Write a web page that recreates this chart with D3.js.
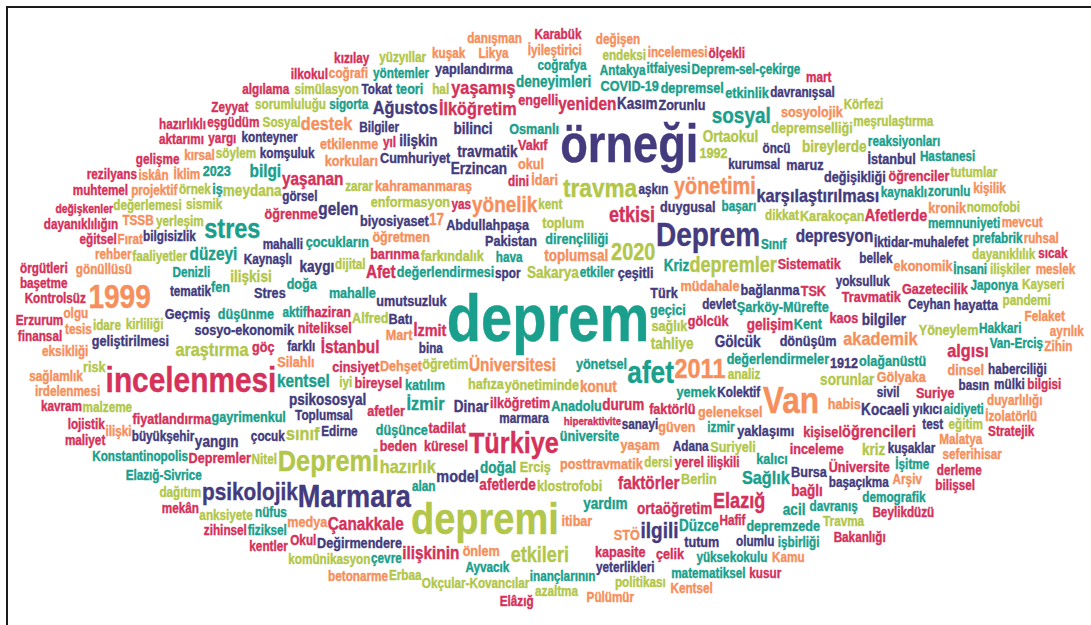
<!DOCTYPE html>
<html>
<head>
<meta charset="utf-8">
<script src="https://cdn.jsdelivr.net/npm/d3@7"></script>
<style>
  html, body { margin: 0; padding: 0; background: #fff; overflow: hidden; }
</style>
</head>
<body>
<div id="chart"></div>
<script>
//! CONSTS
const WIDTH = 1091;
const HEIGHT = 625;
const FONT = '"Liberation Sans", Arial, sans-serif';
const SQUEEZE = 0.85; // horizontal squeeze to get a condensed face
const SEED = 0.9201;

//! DATA  (word, weight) per colour group
const PURPLE = [
  ["örneği", 38], ["Deprem", 19], ["Marmara", 18], ["psikolojik", 11], ["ilgili", 9],
  ["Ağustos", 6], ["karşılaştırılması", 6], ["gelen", 5], ["depresyon", 5], ["model", 4],
  ["yangın", 3], ["kaygı", 3], ["bilinci", 3], ["Dinar", 3], ["Erzincan", 3], ["bilgiler", 3],
  ["Kocaeli", 3], ["ilişkin", 3], ["Gölcük", 3], ["Kasım", 3], ["psikososyal", 3], ["travmatik", 3],
  ["umutsuzluk", 2], ["duygusal", 2], ["yapılandırma", 2], ["hayatta", 2], ["geliştirilmesi", 2],
  ["Batı", 2], ["değişikliği", 2], ["biyosiyaset", 2], ["1912", 2], ["tutum", 2], ["Değirmendere", 2],
  ["Türk", 2], ["maruz", 2], ["Stres", 2], ["sosyo-ekonomik", 2], ["Zorunlu", 2], ["İstanbul", 2],
  ["Abdullahpaşa", 2], ["yaklaşımı", 2], ["çeşitli", 2], ["bağlanma", 2], ["Cumhuriyet", 2],
  ["Pakistan", 2], ["dönüşüm", 2], ["Bursa", 2], ["Geçmiş", 2],
  ["Tokat", 1], ["marmara", 1], ["yeterlikleri", 1], ["Toplumsal", 1], ["İktidar-muhalefet", 1],
  ["kurumsal", 1], ["büyükşehir", 1], ["sanayi", 1], ["Kaynaşlı", 1], ["bilgisizlik", 1], ["Adana", 1],
  ["farklı", 1], ["sivil", 1], ["devlet", 1], ["basın", 1], ["kuşaklar", 1], ["aşkın", 1], ["yıkıcı", 1],
  ["Edirne", 1], ["mahalli", 1], ["olumlu", 1], ["spor", 1], ["bellek", 1], ["haberciliği", 1],
  ["Kolektif", 1], ["komşuluk", 1], ["davranışsal", 1], ["öncü", 1], ["bina", 1], ["tematik", 1],
  ["mülki", 1], ["görsel", 1], ["yoksulluk", 1], ["Bilgiler", 1], ["Ceyhan", 1], ["konteyner", 1],
  ["çocuk", 1], ["başaçıkma", 1], ["test", 1]
];

const TEAL = [
  ["deprem", 50], ["afet", 17], ["stres", 14], ["sosyal", 9], ["İzmir", 6], ["Sağlık", 6],
  ["bilgi", 5], ["kentsel", 5], ["düzeyi", 5], ["deneyimleri", 3], ["acil", 3], ["doğal", 3],
  ["Düzce", 3], ["yardım", 3], ["Kriz", 3], ["iş", 2], ["Osmanlı", 2],
  ["Şarköy-Mürefte", 2], ["değerlendirmeler", 2], ["olağanüstü", 2], ["yönetsel", 2], ["katılım", 2],
  ["kalıcı", 2], ["mahalle", 2], ["gayrimenkul", 2], ["fen", 2], ["teori", 2], ["2023", 2],
  ["Anadolu", 2], ["düşünce", 2], ["COVID-19", 2], ["dirençliliği", 2], ["düşünme", 2], ["Kent", 2],
  ["geçici", 2], ["yemek", 2], ["doğa", 2], ["depremsel", 2], ["etkinlik", 2], ["değerlendirmesi", 2],
  ["üniversite", 2], ["depremzede", 2], ["çocukların", 2],
  ["başarı", 1], ["Ayvacık", 1], ["memnuniyeti", 1], ["İnsani", 1], ["Konstantinopolis", 1],
  ["kaynaklı", 1], ["reaksiyonları", 1], ["izmir", 1], ["etkiler", 1], ["Hakkari", 1], ["nüfus", 1],
  ["yöntemler", 1], ["inançlarının", 1], ["fiziksel", 1], ["Hastanesi", 1], ["Sınıf", 1], ["hava", 1],
  ["Antakya", 1], ["alan", 1], ["coğrafya", 1], ["davranış", 1], ["sigorta", 1], ["Elazığ-Sivrice", 1],
  ["Van-Erciş", 1], ["aidiyeti", 1], ["zorunlu", 1], ["işbirliği", 1], ["itfaiyesi", 1], ["İşitme", 1],
  ["aktif", 1], ["Japonya", 1], ["Denizli", 1], ["yüksekokulu", 1], ["çevre", 1], ["prefabrik", 1],
  ["Deprem-sel-çekirge", 1], ["matematiksel", 1], ["demografik", 1]
];

const GREEN = [
  ["depremi", 30], ["Depremi", 16], ["travma", 13], ["2020", 10], ["etkileri", 8], ["depremler", 8],
  ["araştırma", 6], ["hazırlık", 6], ["sınıf", 6], ["Sakarya", 3], ["meydana", 3], ["kriz", 3],
  ["bireylerde", 3], ["ilişkisi", 3], ["sorunlar", 3], ["Ortaokul", 3], ["tahliye", 3], ["risk", 2],
  ["enformasyon", 2], ["depremselliği", 2], ["öğretim", 2], ["Suriyeli", 2], ["toplum", 2], ["1992", 2],
  ["yönetiminde", 2], ["Alfred", 2], ["sağlık", 2], ["klostrofobi", 2], ["Karakoçan", 2], ["Erciş", 2],
  ["farkındalık", 2], ["Berlin", 2], ["hafıza", 2], ["Yöneylem", 2],
  ["meşrulaştırma", 1], ["politikası", 1], ["kirliliği", 1], ["Okçular-Kovancılar", 1], ["dayanıklılık", 1],
  ["simülasyon", 1], ["dijital", 1], ["azaltma", 1], ["endeksi", 1], ["söylem", 1], ["Nitel", 1],
  ["analiz", 1], ["kent", 1], ["sismik", 1], ["Körfezi", 1], ["iyi", 1], ["yüzyıllar", 1], ["eğitim", 1],
  ["dersi", 1], ["idare", 1], ["zarar", 1], ["faaliyetler", 1], ["Sosyal", 1], ["örnek", 1],
  ["yerleşim", 1], ["ilişkiler", 1], ["dağıtım", 1], ["malzeme", 1], ["anksiyete", 1], ["dikkat", 1],
  ["nomofobi", 1], ["Kayseri", 1], ["Erbaa", 1], ["değerlemesi", 1], ["komünikasyon", 1],
  ["tutumlar", 1], ["sorumluluğu", 1], ["Travma", 1], ["pandemi", 1], ["hal", 1]
];

const ORANGE = [
  ["Van", 23], ["1999", 19], ["2011", 14], ["yönetimi", 10], ["yönelik", 9], ["destek", 6],
  ["akademik", 6], ["Üniversitesi", 5], ["17", 3], ["konut", 3], ["toplumsal", 3], ["müdahale", 2],
  ["öğretmen", 2], ["kronik", 2], ["kahramanmaraş", 2], ["posttravmatik", 2], ["Silahlı", 2],
  ["Dehşet", 2], ["STÖ", 2], ["Gölyaka", 2], ["dinsel", 2], ["korkuları", 2], ["ekonomik", 2],
  ["etkilenme", 2], ["itibar", 2], ["yaşam", 2], ["medya", 2], ["sosyolojik", 2], ["güven", 2],
  ["geleneksel", 2], ["habis", 2], ["Mart", 2], ["önlem", 2], ["okul", 2], ["İdari", 2],
  ["gönüllüsü", 1], ["rehber", 1], ["Felaket", 1], ["Arşiv", 1], ["Fırat", 1], ["ilişki", 1],
  ["kişilik", 1], ["duyarlılığı", 1], ["İyileştirici", 1], ["irdelenmesi", 1], ["Kentsel", 1],
  ["eksikliği", 1], ["betonarme", 1], ["İklim", 1], ["mevcut", 1], ["kırsal", 1], ["coğrafi", 1],
  ["Pülümür", 1], ["Malatya", 1], ["Likya", 1], ["Kamu", 1], ["ruhsal", 1], ["meslek", 1],
  ["sağlamlık", 1], ["kuşak", 1], ["incelemesi", 1], ["İzolatörlü", 1], ["tesis", 1],
  ["seferihisar", 1], ["ayrılık", 1], ["olgu", 1], ["Zihin", 1], ["projektif", 1], ["TSSB", 1],
  ["değişen", 1], ["iskân", 1], ["danışman", 1]
];

const RED = [
  ["incelenmesi", 21], ["Türkiye", 16], ["Elazığ", 8], ["etkisi", 8], ["İlköğretim", 6],
  ["yaşamış", 6], ["algısı", 6], ["faktörler", 5], ["Afet", 5], ["İstanbul", 5], ["yeniden", 5],
  ["Çanakkale", 5], ["yaşanan", 5], ["ilişkinin", 5], ["Afetlerde", 4], ["İzmit", 4], ["öğrencileri", 4],
  ["durum", 3], ["afetlerde", 3], ["bağlı", 3], ["ortaöğretim", 3], ["gelişim", 3],
  ["yerel", 2], ["göç", 2], ["bireysel", 2], ["Depremler", 2], ["cinsiyet", 2],
  ["ilköğretim", 2], ["öğrenciler", 2], ["faktörlü", 2], ["küresel", 2], ["barınma", 2], ["kapasite", 2],
  ["fiyatlandırma", 2], ["haziran", 2], ["kaos", 2], ["çelik", 2], ["niteliksel", 2], ["Suriye", 2],
  ["gölcük", 2], ["öğrenme", 2], ["beden", 2], ["inceleme", 2], ["tadilat", 2], ["Sistematik", 2],
  ["Vakıf", 2], ["engelli", 2], ["Travmatik", 2], ["kişisel", 2], ["TSK", 2], ["Gazetecilik", 2],
  ["afetler", 2], ["Üniversite", 2],
  ["derleme", 1], ["Kontrolsüz", 1], ["eğitsel", 1], ["sıcak", 1], ["Erzurum", 1], ["finansal", 1],
  ["Elâzığ", 1], ["kızılay", 1], ["Stratejik", 1], ["Karabük", 1], ["Beylikdüzü", 1], ["kavram", 1],
  ["Hafif", 1], ["eşgüdüm", 1], ["dini", 1], ["ölçekli", 1], ["kentler", 1], ["yas", 1], ["yargı", 1],
  ["algılama", 1], ["mart", 1], ["Zeyyat", 1], ["bilgisi", 1], ["zihinsel", 1], ["Bakanlığı", 1],
  ["lojistik", 1], ["ilkokul", 1], ["aktarımı", 1], ["gelişme", 1], ["başetme", 1], ["örgütleri", 1],
  ["bilişsel", 1], ["ilişkili", 1], ["muhtemel", 1], ["maliyet", 1], ["Okul", 1], ["dayanıklılığın", 1],
  ["yıl", 1], ["mekân", 1], ["hiperaktivite", 1], ["değişkenler", 1], ["kusur", 1], ["rezilyans", 1],
  ["hazırlıklı", 1]
];

const GROUPS = ["purple", "teal", "green", "orange", "red"];

//! SCALES
const color = d3.scaleOrdinal()
  .domain(GROUPS)
  .range(["#433b7d", "#1a9f8c", "#b2c74a", "#f68f5b", "#d5315a"]);

const fontSize = d3.scaleLinear()
  .domain([1, 50])
  .range([13.8, 66]);

// heaviest words first (stable sort keeps list order for ties)
const words = [PURPLE, TEAL, GREEN, ORANGE, RED]
  .flatMap((list, g) => list.map(([text, weight]) => ({ text, weight, group: GROUPS[g] })))
  .sort((a, b) => d3.descending(a.weight, b.weight));

//! MEASURE  (full em box, so no two text boxes overlap)
const ctx = document.createElement('canvas').getContext('2d');
function measure(d) {
  ctx.font = `bold ${d.size}px ${FONT}`;
  const m = ctx.measureText(d.text);
  d.w = m.width * SQUEEZE;
  d.asc = m.fontBoundingBoxAscent;
  d.h = m.fontBoundingBoxAscent + m.fontBoundingBoxDescent;
}

//! LAYOUT  (d3-cloud style: random start, elliptical spiral, box collision, elliptic mask)
const CX = 548, CY = 318, A = 540, B = 292, ELL = A / B;
const CELL = 24;
const cols = Math.ceil(WIDTH / CELL), rows = Math.ceil(HEIGHT / CELL);
const grid = Array.from({ length: cols * rows }, () => []);
const rand = d3.randomLcg(SEED);

const inside = (x, y) => ((x - CX) / A) ** 2 + ((y - CY) / B) ** 2 <= 1;

function hits(x0, y0, x1, y1) {
  const c0 = Math.max(0, Math.floor(x0 / CELL)), c1 = Math.min(cols - 1, Math.floor(x1 / CELL));
  const r0 = Math.max(0, Math.floor(y0 / CELL)), r1 = Math.min(rows - 1, Math.floor(y1 / CELL));
  for (let r = r0; r <= r1; r++) {
    for (let c = c0; c <= c1; c++) {
      const cell = grid[r * cols + c];
      for (let k = 0; k < cell.length; k++) {
        const b = cell[k];
        if (x0 < b[2] && x1 > b[0] && y0 < b[3] && y1 > b[1]) return true;
      }
    }
  }
  return false;
}

function add(box) {
  const c0 = Math.floor(box[0] / CELL), c1 = Math.floor(box[2] / CELL);
  const r0 = Math.floor(box[1] / CELL), r1 = Math.floor(box[3] / CELL);
  for (let r = Math.max(0, r0); r <= Math.min(rows - 1, r1); r++)
    for (let c = Math.max(0, c0); c <= Math.min(cols - 1, c1); c++) grid[r * cols + c].push(box);
}

function place(d, sx, sy, phase) {
  const w = d.w, h = d.h;
  for (let t = 0; ; t += Math.min(0.3, 1.4 / Math.max(1, 0.45 * t * ELL))) {
    const r = 0.45 * t;
    if (r > 2 * B) return false;
    const x = sx + ELL * r * Math.cos(t + phase) - w / 2;
    const y = sy + r * Math.sin(t + phase) - h / 2;
    if (inside(x, y) && inside(x + w, y) && inside(x, y + h) && inside(x + w, y + h)
        && !hits(x, y, x + w, y + h)) {
      add([x, y, x + w + 0.5, y + h]);
      d.x = x;
      d.y = y + d.asc; // baseline
      return true;
    }
  }
}

const placed = [];
words.forEach((d, i) => {
  // start point: centre for the first word, random inside an inner ellipse for the others
  const a = rand() * 2 * Math.PI, k = i === 0 ? 0 : 0.8 * Math.sqrt(rand());
  const sx = CX + A * k * Math.cos(a), sy = CY + B * k * Math.sin(a);
  const phase = rand() * 2 * Math.PI;
  d.size = fontSize(d.weight);
  measure(d);
  // shrink a little if there is no room left, never drop a word
  while (!place(d, sx, sy, phase) && d.size > 8) { d.size *= 0.94; measure(d); }
  placed.push(d);
});

//! SVG
const svg = d3.select('#chart')
  .append('svg')
  .attr('width', WIDTH)
  .attr('height', HEIGHT);

svg.append('g')
  .attr('class', 'words')
  .selectAll('text')
  .data(placed)
  .enter()
  .append('text')
  .attr('transform', d => `translate(${d.x},${d.y}) scale(${SQUEEZE},1)`)
  .attr('font-family', FONT)
  .attr('font-weight', 'bold')
  .attr('font-size', d => d.size)
  .attr('fill', d => color(d.group))
  .attr('stroke', d => color(d.group))
  .attr('stroke-width', 0.4)
  .text(d => d.text);

// frame (only top and left edges are in view)
svg.append('path')
  .attr('d', `M7,${HEIGHT} V7 H${WIDTH}`)
  .attr('fill', 'none')
  .attr('stroke', '#1b1b1b')
  .attr('stroke-width', 2);
</script>
</body>
</html>
